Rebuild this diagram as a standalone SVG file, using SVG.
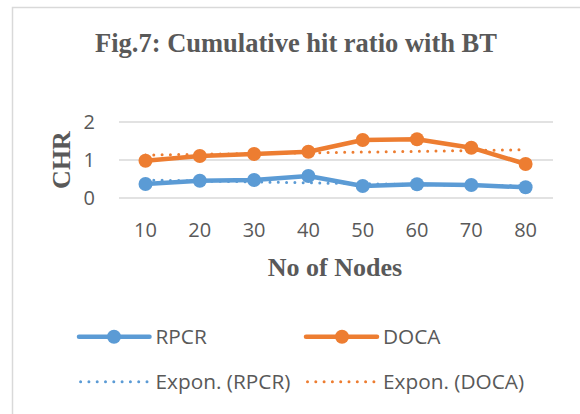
<svg xmlns="http://www.w3.org/2000/svg" width="580" height="414" viewBox="0 0 580 414">
  <style>
    .frame { fill: none; stroke: #D9D9D9; stroke-width: 1.5; }
    .grid { stroke: #D9D9D9; stroke-width: 1.3; }
    .title { font-family: "Liberation Serif", "Times New Roman", serif; font-weight: bold; fill: #595959; }
    .lbl { font-family: "Open Sans", "Noto Sans", sans-serif; font-size: 20px; fill: #595959; }
    .leg { font-size: 20.8px; }
    .series { fill: none; stroke-width: 4.5; stroke-linejoin: round; stroke-linecap: round; }
    .trend { fill: none; stroke-width: 3; stroke-linecap: round; stroke-dasharray: 0 8.3; }
    .blue { stroke: #5B9BD5; }
    .orange { stroke: #ED7D31; }
    .mk-blue { fill: #5B9BD5; }
    .mk-orange { fill: #ED7D31; }
  </style>

  <rect width="580" height="414" fill="#FFFFFF"/>
  <path class="frame" d="M12.5,414 V7.5 H580"/>

  <!-- chart title -->
  <g id="title">
    <text class="title" x="296" y="52" font-size="26.5" text-anchor="middle">Fig.7: Cumulative hit ratio with BT</text>
  </g>

  <!-- value axis -->
  <g id="y-axis">
    <line class="grid" x1="119" y1="122" x2="553" y2="122"/>
    <line class="grid" x1="119" y1="160" x2="553" y2="160"/>
    <line class="grid" x1="119" y1="198" x2="553" y2="198"/>
    <text class="lbl" x="95" y="129" text-anchor="end">2</text>
    <text class="lbl" x="95" y="167" text-anchor="end">1</text>
    <text class="lbl" x="95" y="205" text-anchor="end">0</text>
    <text class="title" font-size="26" text-anchor="middle" transform="translate(70,160) rotate(-90)">CHR</text>
  </g>

  <!-- category axis -->
  <g id="x-axis" text-anchor="middle">
    <text class="lbl" x="145.5" y="237">10</text>
    <text class="lbl" x="199.8" y="237">20</text>
    <text class="lbl" x="254.1" y="237">30</text>
    <text class="lbl" x="308.4" y="237">40</text>
    <text class="lbl" x="362.7" y="237">50</text>
    <text class="lbl" x="417" y="237">60</text>
    <text class="lbl" x="471.3" y="237">70</text>
    <text class="lbl" x="525.6" y="237">80</text>
    <text class="title" x="335" y="276" font-size="26">No of Nodes</text>
  </g>

  <!-- series and exponential trendlines -->
  <g id="connectors">
    <path id="trend-rpcr" class="trend blue" d="M145.5,180 L199.8,181 L254.1,181.9 L308.4,182.8 L362.7,183.7 L417,184.5 L471.3,185.3 L525.6,186"/>
    <path id="trend-doca" class="trend orange" d="M145.5,155 L199.8,154.3 L254.1,153.5 L308.4,152.8 L362.7,152.1 L417,151.3 L471.3,150.5 L525.6,149.7"/>
    <polyline id="line-rpcr" class="series blue" points="145.5,184 199.8,180.7 254.1,180 308.4,176 362.7,186 417,184.3 471.3,185 525.6,187.3"/>
    <polyline id="line-doca" class="series orange" points="145.5,160.7 199.8,156 254.1,154 308.4,151.7 362.7,140 417,139.3 471.3,147.7 525.6,164"/>
  </g>

  <g id="markers-rpcr" class="mk-blue">
    <circle cx="145.5" cy="184" r="7"/>
    <circle cx="199.8" cy="180.7" r="7"/>
    <circle cx="254.1" cy="180" r="7"/>
    <circle cx="308.4" cy="176" r="7"/>
    <circle cx="362.7" cy="186" r="7"/>
    <circle cx="417" cy="184.3" r="7"/>
    <circle cx="471.3" cy="185" r="7"/>
    <circle cx="525.6" cy="187.3" r="7"/>
  </g>
  <g id="markers-doca" class="mk-orange">
    <circle cx="145.5" cy="160.7" r="7"/>
    <circle cx="199.8" cy="156" r="7"/>
    <circle cx="254.1" cy="154" r="7"/>
    <circle cx="308.4" cy="151.7" r="7"/>
    <circle cx="362.7" cy="140" r="7"/>
    <circle cx="417" cy="139.3" r="7"/>
    <circle cx="471.3" cy="147.7" r="7"/>
    <circle cx="525.6" cy="164" r="7"/>
  </g>

  <!-- legend -->
  <g id="legend">
    <line class="series blue" x1="79" y1="336.7" x2="149.5" y2="336.7"/>
    <circle class="mk-blue" cx="114" cy="336.7" r="7"/>
    <text class="lbl leg" x="155.5" y="344">RPCR</text>
    <line class="series orange" x1="306" y1="336.7" x2="377" y2="336.7"/>
    <circle class="mk-orange" cx="342" cy="336.7" r="7"/>
    <text class="lbl leg" x="383" y="344">DOCA</text>
    <line class="trend blue" x1="80.6" y1="381.7" x2="148" y2="381.7"/>
    <text class="lbl leg" x="155.5" y="389">Expon. (RPCR)</text>
    <line class="trend orange" x1="307.5" y1="381.7" x2="377" y2="381.7"/>
    <text class="lbl leg" x="383" y="389">Expon. (DOCA)</text>
  </g>
</svg>
